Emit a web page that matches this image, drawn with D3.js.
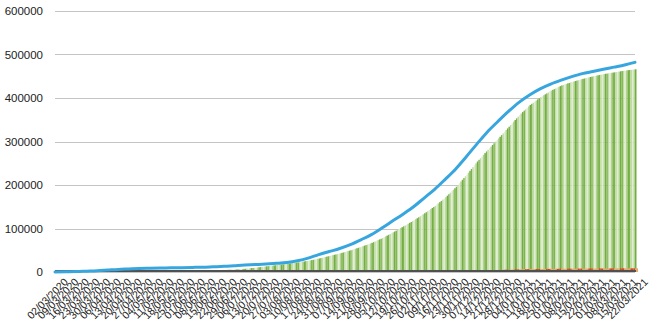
<!DOCTYPE html>
<html>
<head>
<meta charset="utf-8">
<script src="https://cdn.jsdelivr.net/npm/d3@7"></script>
<style>
  body { margin: 0; background: #fff; }
  text { font-family: "Liberation Sans", Arial, sans-serif; }
</style>
</head>
<body>
<div id="chart"></div>
<script>
var w = 660, h = 330;

// Weekly tick labels, also the dates of the cumulative line
var weekLabels = [
  "02/03/2020", "09/03/2020", "16/03/2020", "23/03/2020", "30/03/2020",
  "06/04/2020", "13/04/2020", "20/04/2020", "27/04/2020",
  "04/05/2020", "11/05/2020", "18/05/2020", "25/05/2020",
  "01/06/2020", "08/06/2020", "15/06/2020", "22/06/2020", "29/06/2020",
  "06/07/2020", "13/07/2020", "20/07/2020", "27/07/2020",
  "03/08/2020", "10/08/2020", "17/08/2020", "24/08/2020", "31/08/2020",
  "07/09/2020", "14/09/2020", "21/09/2020", "28/09/2020",
  "05/10/2020", "12/10/2020", "19/10/2020", "26/10/2020",
  "02/11/2020", "09/11/2020", "16/11/2020", "23/11/2020", "30/11/2020",
  "07/12/2020", "14/12/2020", "21/12/2020", "28/12/2020",
  "04/01/2021", "11/01/2021", "18/01/2021", "25/01/2021",
  "01/02/2021", "08/02/2021", "15/02/2021", "22/02/2021",
  "01/03/2021", "08/03/2021", "15/03/2021", "22/03/2021"
];

// Cumulative cases (blue line), one value per week
var totalCases = [
  0, 500, 1000, 2000, 3000, 4500, 6000, 7000, 8000, 8500,
  9000, 9500, 10000, 10500, 11000, 12000, 13000, 14500, 16000, 17000,
  18500, 20000, 22000, 26000, 32000, 40000, 47000, 54000, 63000, 74000,
  86000, 101000, 117000, 133000, 150000, 170000, 190000, 213000, 237000, 265000,
  294000, 322000, 346000, 369000, 390000, 407000, 421000, 432000, 441000, 449000,
  456000, 461000, 466000, 471000, 476000, 482000
];

// Daily green bars, first day 02/03/2020
var firstDay = "02/03/2020";
var recovered = [
  0, 0, 0, 0, 0, 0, 0,
  0, 0, 0, 0, 0, 0, 0,
  0, 0, 0, 0, 0, 0, 0,
  0, 0, 10, 20, 40, 60, 80,
  100, 120, 150, 180, 210, 240, 270,
  300, 340, 380, 430, 480, 520, 560,
  600, 650, 710, 760, 820, 880, 940,
  1000, 1060, 1110, 1170, 1230, 1290, 1340,
  1400, 1460, 1510, 1570, 1630, 1690, 1740,
  1800, 1860, 1910, 1970, 2030, 2090, 2140,
  2200, 2260, 2310, 2370, 2430, 2490, 2540,
  2600, 2660, 2710, 2770, 2830, 2890, 2940,
  3000, 3060, 3110, 3170, 3230, 3290, 3340,
  3400, 3460, 3510, 3570, 3630, 3690, 3740,
  3800, 3860, 3910, 3970, 4030, 4090, 4140,
  4200, 4290, 4370, 4460, 4540, 4630, 4710,
  4800, 4900, 5000, 5100, 5200, 5300, 5400,
  5500, 5800, 6100, 6400, 6600, 6900, 7200,
  7500, 7900, 8200, 8600, 8900, 9300, 9600,
  10000, 10400, 10900, 11300, 11700, 12100, 12600,
  13000, 13400, 13900, 14300, 14700, 15100, 15600,
  16000, 16400, 16900, 17300, 17700, 18100, 18600,
  19000, 19400, 19900, 20300, 20700, 21100, 21600,
  22000, 22600, 23100, 23700, 24300, 24900, 25400,
  26000, 26700, 27400, 28100, 28900, 29600, 30300,
  31000, 31900, 32700, 33600, 34400, 35300, 36100,
  37000, 37900, 38700, 39600, 40400, 41300, 42100,
  43000, 44000, 45000, 46000, 47000, 48000, 49000,
  50000, 51100, 52300, 53400, 54600, 55700, 56900,
  58000, 59300, 60600, 61900, 63100, 64400, 65700,
  67000, 68600, 70100, 71700, 73300, 74900, 76400,
  78000, 79900, 81700, 83600, 85400, 87300, 89100,
  91000, 93000, 95000, 97000, 99000, 101000, 103000,
  105000, 107000, 109000, 111000, 113000, 115000, 117000,
  119000, 121300, 123600, 125900, 128100, 130400, 132700,
  135000, 137400, 139900, 142300, 144700, 147100, 149600,
  152000, 154900, 157700, 160600, 163400, 166300, 169100,
  172000, 175400, 178900, 182300, 185700, 189100, 192600,
  196000, 200000, 204000, 208000, 212000, 216000, 220000,
  224000, 228300, 232600, 236900, 241100, 245400, 249700,
  254000, 257900, 261700, 265600, 269400, 273300, 277100,
  281000, 284700, 288400, 292100, 295900, 299600, 303300,
  307000, 310900, 314700, 318600, 322400, 326300, 330100,
  334000, 337900, 341700, 345600, 349400, 353300, 357100,
  361000, 364300, 367600, 370900, 374100, 377400, 380700,
  384000, 386600, 389100, 391700, 394300, 396900, 399400,
  402000, 404100, 406300, 408400, 410600, 412700, 414900,
  417000, 418700, 420400, 422100, 423900, 425600, 427300,
  429000, 430100, 431300, 432400, 433600, 434700, 435900,
  437000, 438000, 439000, 440000, 441000, 442000, 443000,
  444000, 444900, 445700, 446600, 447400, 448300, 449100,
  450000, 450700, 451400, 452100, 452900, 453600, 454300,
  455000, 455600, 456100, 456700, 457300, 457900, 458400,
  459000, 459600, 460100, 460700, 461300, 461900, 462400,
  463000, 463400, 463900, 464300, 464700, 465100, 465600,
  466000
];

// Daily red bars, first day 20/11/2020
var redFirstDay = "20/11/2020";
var redValues = [
  1500, 1600, 1700, 1800, 1900, 2000, 2100,
  2200, 2300, 2500, 2600, 2700, 2800, 2900,
  3000, 3100, 3200, 3300, 3400, 3500, 3600,
  3700, 3800, 3900, 4000, 4100, 4200, 4300,
  4400, 4500, 4600, 4700, 4800, 4900, 5000,
  5100, 5200, 5300, 5400, 5500, 5600, 5700,
  5800, 5900, 6000, 6100, 6200, 6300, 6400,
  6500, 6500, 6600, 6600, 6700, 6700, 6800,
  6800, 6900, 6900, 7000, 7000, 7000, 7100,
  7100, 7100, 7200, 7200, 7200, 7300, 7300,
  7300, 7400, 7400, 7400, 7500, 7500, 7500,
  7600, 7600, 7600, 7700, 7700, 7700, 7700,
  7800, 7800, 7800, 7800, 7900, 7900, 7900,
  7900, 8000, 8000, 8000, 8000, 8000, 8100,
  8100, 8100, 8100, 8100, 8200, 8200, 8200,
  8200, 8200, 8200, 8300, 8300, 8300, 8300,
  8300, 8300, 8400, 8400, 8400, 8400, 8400,
  8400, 8400, 8500, 8500, 8500
];

var yTicks = [0, 100000, 200000, 300000, 400000, 500000, 600000];

var parse = d3.timeParse("%d/%m/%Y");

// Scales
var x = d3.scaleTime()
  .domain([parse(weekLabels[0]), parse(weekLabels[weekLabels.length - 1])])
  .range([55, 635]);

var y = d3.scaleLinear()
  .domain([0, 600000])
  .range([272, 11]);

var dayWidth = x(d3.timeDay.offset(parse(firstDay), 1)) - x(parse(firstDay));

var svg = d3.select("#chart")
  .append("svg")
  .attr("width", w)
  .attr("height", h);

// Horizontal grid lines
svg.append("g")
  .selectAll("line")
  .data(yTicks)
  .enter()
  .append("line")
  .attr("x1", 55)
  .attr("x2", 635)
  .attr("y1", function(d) { return Math.round(y(d)) + 0.5; })
  .attr("y2", function(d) { return Math.round(y(d)) + 0.5; })
  .attr("stroke", "#c4c4c4")
  .attr("stroke-width", 1);

// Y labels
svg.append("g")
  .selectAll("text")
  .data(yTicks)
  .enter()
  .append("text")
  .attr("x", 43)
  .attr("y", function(d) { return y(d); })
  .attr("dy", "0.35em")
  .attr("text-anchor", "end")
  .attr("font-size", 11.5)
  .attr("fill", "#222")
  .text(function(d) { return d; });

// Green daily bars (two darker days, three lighter ones)
var greenColors = ["#74ad44", "#7db44d", "#c0dca4", "#dfedd0", "#b2d492"];
var greenData = recovered.map(function(v, i) {
  return { date: d3.timeDay.offset(parse(firstDay), i), value: v, i: i };
});

svg.append("g")
  .selectAll("rect")
  .data(greenData)
  .enter()
  .append("rect")
  .attr("x", function(d) { return x(d.date); })
  .attr("width", dayWidth)
  .attr("y", function(d) { return y(d.value); })
  .attr("height", function(d) { return y(0) - y(d.value); })
  .attr("fill", function(d) { return greenColors[d.i % 5]; });

// Red daily bars
var redData = redValues.map(function(v, i) {
  return { date: d3.timeDay.offset(parse(redFirstDay), i), value: v, i: i };
});

svg.append("g")
  .selectAll("rect")
  .data(redData)
  .enter()
  .append("rect")
  .attr("x", function(d) { return x(d.date); })
  .attr("width", dayWidth)
  .attr("y", function(d) { return y(d.value); })
  .attr("height", function(d) { return y(0) - y(d.value); })
  .attr("fill", function(d) { return d.i % 7 < 3 ? "#d9441e" : "#eda56a"; });

// Baseline
svg.append("line")
  .attr("x1", 55)
  .attr("x2", 636)
  .attr("y1", y(0) - 1)
  .attr("y2", y(0) - 1)
  .attr("stroke", "#505050")
  .attr("stroke-width", 2);

// X labels, rotated
svg.append("g")
  .selectAll("text")
  .data(weekLabels)
  .enter()
  .append("text")
  .attr("transform", function(d) {
    return "translate(" + (x(parse(d)) + 11) + ",280) rotate(-45)";
  })
  .attr("dy", "0.35em")
  .attr("text-anchor", "end")
  .attr("font-size", 10.5)
  .attr("fill", "#1a1a1a")
  .text(function(d) { return d; });

// Cumulative cases line
var line = d3.line()
  .x(function(d, i) { return x(parse(weekLabels[i])); })
  .y(function(d) { return y(d); })
  .curve(d3.curveMonotoneX);

svg.append("path")
  .datum(totalCases)
  .attr("d", line)
  .attr("fill", "none")
  .attr("stroke", "#38a6de")
  .attr("stroke-width", 3)
  .attr("stroke-linecap", "round");
</script>
</body>
</html>
